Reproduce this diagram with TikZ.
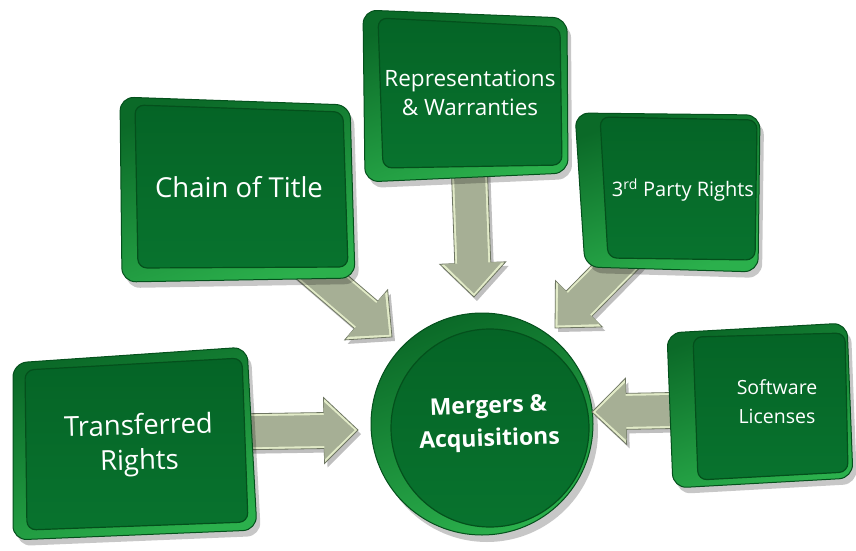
\documentclass[tikz,border=0pt]{standalone}
\usepackage{fontspec}
\setmainfont{Open Sans}
\usetikzlibrary{calc}
\definecolor{face}{HTML}{08732E}
\definecolor{faceT}{HTML}{056426}
\definecolor{rimL}{HTML}{2BB04C}
\definecolor{rimD}{HTML}{0B6A28}
\definecolor{edgeD}{HTML}{04501C}
\definecolor{arrM}{HTML}{A6AF95}
\definecolor{arrL}{HTML}{E2EBC8}
\definecolor{arrD}{HTML}{6E7662}
\tikzset{
  shadowfill/.style={fill=black,opacity=.22},
  rimshade/.style={shading=axis,top color=rimD,bottom color=rimL,shading angle=20},
  faceshade/.style={shading=axis,top color=faceT,bottom color=face,draw=edgeD,line width=1.2pt},
  lbl/.style={text=white,align=center,inner sep=0pt},
  arrshadow/.style={fill=black,opacity=.25,transform canvas={shift={(3pt,-4pt)}}},
  arrrim/.style={fill=arrL,draw=arrD,line width=0.8pt},
  arrbody/.style={fill=arrM},
}
% #1 start, #2 end, #3 shaft half width, #4 head half width, #5 head length, #6 tip inset, #7 style
\newcommand\arrpoly[7]{%
  \path[#7] let \p1=(#1), \p2=(#2), \n1={atan2(\y2-\y1,\x2-\x1)}, \n2={veclen(\x2-\x1,\y2-\y1)} in
   ([shift={(\p1)},rotate=\n1]0pt,-#3pt) --
   ([shift={(\p1)},rotate=\n1]\n2-#5pt-#6pt,-#3pt) --
   ([shift={(\p1)},rotate=\n1]\n2-#5pt-#6pt,-#4pt) --
   ([shift={(\p1)},rotate=\n1]\n2-#6pt,0pt) --
   ([shift={(\p1)},rotate=\n1]\n2-#5pt-#6pt,#4pt) --
   ([shift={(\p1)},rotate=\n1]\n2-#5pt-#6pt,#3pt) --
   ([shift={(\p1)},rotate=\n1]0pt,#3pt) -- cycle;
}
\newcommand\blockarrow[2]{%
  \arrpoly{#1}{#2}{18}{33}{34}{0}{arrshadow}
  \arrpoly{#1}{#2}{18}{33}{34}{0}{arrrim}
  \arrpoly{#1}{#2}{15.5}{29}{30.5}{3.5}{arrbody}
}
\newcommand\greenbox[2]{%
  \fill[shadowfill,rounded corners=14pt,transform canvas={shift={(4pt,-6pt)}}] #1;
  \shade[rimshade,rounded corners=14pt] #1;
  \draw[edgeD,line width=1pt,rounded corners=14pt] #1;
  \shade[faceshade,rounded corners=9pt] #2;
}
\begin{document}
\begin{tikzpicture}[x=1pt,y=-1pt]
\useasboundingbox[fill=white] (0,0) rectangle (856,551);

% central circle
\fill[shadowfill] (487,431) circle (111pt);
\node[circle,minimum size=222pt,inner sep=0pt,rimshade,draw=edgeD,line width=1pt] (mna) at (482,424) {};
\node[circle,minimum size=198pt,inner sep=0pt,faceshade] (mnaface) at (490,428) {};
\node[lbl,font=\bfseries\fontsize{23}{33}\selectfont,rotate=2] (mnatext) at (489,424) {Mergers \&\\Acquisitions};

% arrow end points
\coordinate (s1) at (301,259); \coordinate (e1) at (392,337);
\coordinate (s2) at (469,160); \coordinate (e2) at (474,297);
\coordinate (s3) at (630,252); \coordinate (e3) at (555,328);
\coordinate (s4) at (230,432); \coordinate (e4) at (358,430);
\coordinate (s5) at (700,410); \coordinate (e5) at (592,412);

\blockarrow{s1}{e1}
\blockarrow{s2}{e2}
\blockarrow{s3}{e3}
\blockarrow{s4}{e4}
\blockarrow{s5}{e5}

% boxes
\greenbox{(120,97) -- (350,105) -- (355,278) -- (122,282) -- cycle}{(135,105) -- (343,112) -- (348,267) -- (138,268) -- cycle}
\greenbox{(363,10) -- (567,18) -- (568,173) -- (365,182) -- cycle}{(378,18) -- (560,27) -- (562,165) -- (383,168) -- cycle}
\greenbox{(575,113) -- (760,115) -- (758,272) -- (585,267) -- cycle}{(600,117) -- (757,120) -- (755,260) -- (608,258) -- cycle}
\greenbox{(667,333) -- (847,323) -- (853,478) -- (673,488) -- cycle}{(693,337) -- (845,333) -- (848,472) -- (698,480) -- cycle}
\greenbox{(13,363) -- (247,347) -- (257,530) -- (13,540) -- cycle}{(25,370) -- (242,358) -- (248,522) -- (27,530) -- cycle}

\node[lbl,font=\fontsize{27.5}{33}\selectfont] (chain) at (239,187) {Chain of Title};
\node[lbl,font=\fontsize{22.5}{29}\selectfont] (rep) at (470,93) {Representations\\\& Warranties};
\node[lbl,font=\fontsize{20}{26}\selectfont] (third) at (683,190) {3\textsuperscript{rd} Party Rights};
\node[lbl,font=\fontsize{19.5}{29}\selectfont] (soft) at (777,402) {Software\\Licenses};
\node[lbl,font=\fontsize{27.5}{35}\selectfont,rotate=1.5] (trans) at (139,445) {Transferred\\Rights};
\end{tikzpicture}
\end{document}
